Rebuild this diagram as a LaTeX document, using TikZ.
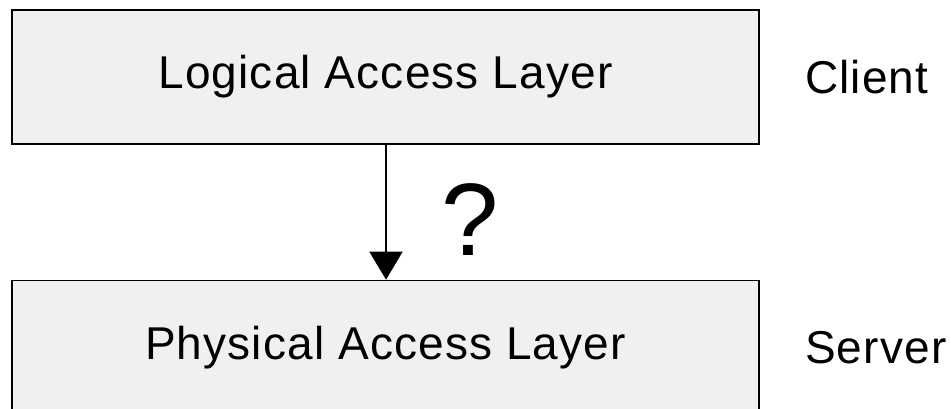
\documentclass[tikz,border=0pt]{standalone}
\usepackage{fontspec}
\setmainfont{Liberation Sans}
\newfontfamily\spacedsans[LetterSpace=2.5]{Liberation Sans}
\usetikzlibrary{arrows.meta}
\begin{document}
\begin{tikzpicture}[x=1pt,y=-1pt,
  layer/.style={draw=black,line width=1.6pt,fill=black!6,minimum width=747pt,minimum height=134pt,inner sep=0pt,font=\spacedsans\fontsize{46}{50}\selectfont},
  role/.style={anchor=west,inner sep=0pt,font=\spacedsans\fontsize{46}{50}\selectfont},
  flow/.style={draw=black,line width=1.6pt,-{Triangle[width=33pt,length=28pt]}}]
\useasboundingbox (0,0) rectangle (951,409);
\begin{scope}
\clip (0,0) rectangle (951,409);
\node[layer] (logical) at (385.5,77) {Logical Access Layer};
\node[layer] (physical) at (385.5,347.5) {Physical Access Layer};
\node[role] (client) at (805,77) {Client};
\node[role] (server) at (805,347.5) {Server};
\draw[flow] (logical.south -| 386,0) -- (physical.north -| 386,0);
\node[inner sep=0pt,font=\fontsize{103}{110}\selectfont] (q) at (470,220) {?};
\end{scope}
\end{tikzpicture}
\end{document}
